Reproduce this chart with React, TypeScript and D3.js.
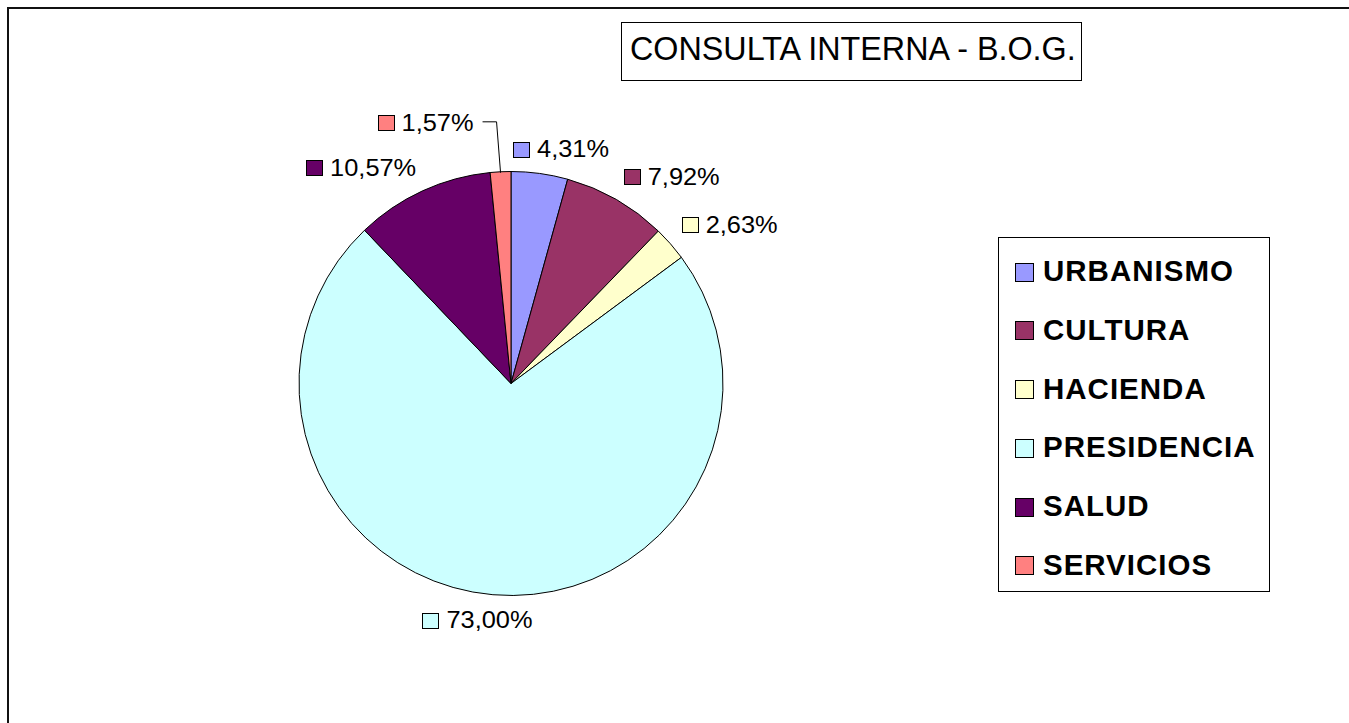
import React, { useEffect, useRef } from "react";
import * as d3 from "d3";

const categories = ["URBANISMO", "CULTURA", "HACIENDA", "PRESIDENCIA", "SALUD", "SERVICIOS"];
const values = [4.31, 7.92, 2.63, 73.0, 10.57, 1.57];
const colors = ["#9999FF", "#993366", "#FFFFCC", "#CCFFFF", "#660066", "#FF8080"];
const title = "CONSULTA INTERNA - B.O.G.";

const FONT = "'Liberation Sans', Arial, Helvetica, sans-serif";

export default function App() {
  const ref = useRef<SVGSVGElement | null>(null);

  useEffect(() => {
    const svg = d3.select(ref.current);
    svg.selectAll("*").remove();

    // outer frame
    svg.append("rect").attr("x", 8).attr("y", 8).attr("width", 1400).attr("height", 800)
      .attr("fill", "white").attr("stroke", "#111").attr("stroke-width", 2);

    // title
    svg.append("rect").attr("x", 621.5).attr("y", 22.5).attr("width", 460).attr("height", 58)
      .attr("fill", "white").attr("stroke", "#000").attr("stroke-width", 1);
    svg.append("text").attr("x", 630).attr("y", 60).attr("font-family", FONT)
      .attr("font-size", 32.3).attr("fill", "#000").text(title);

    const cx = 511, cy = 383.5, r = 212;
    const data = categories.map((c, i) => ({ c, v: values[i], col: colors[i] }));
    const pie = d3.pie<any>().value((d: any) => d.v).sort(null);
    const arcs = pie(data);
    const arc = d3.arc<any>().innerRadius(0).outerRadius(r);

    const g = svg.append("g").attr("transform", `translate(${cx},${cy})`);
    g.selectAll("path").data(arcs).enter().append("path")
      .attr("d", arc as any).attr("fill", (d: any) => d.data.col)
      .attr("stroke", "#000").attr("stroke-width", 1).attr("stroke-linejoin", "round");

    // labels
    const fmt = (v: number) => v.toFixed(2).replace(".", ",") + "%";
    const lg = svg.append("g");
    const D = 227, h = 20;
    arcs.forEach((a: any) => {
      const th = (a.startAngle + a.endAngle) / 2;
      const s = Math.sin(th), c = Math.cos(th);
      const t = lg.append("text").attr("font-family", FONT).attr("font-size", 25.4)
        .attr("fill", "#000").text(fmt(a.data.v));
      const tw = (t.node() as SVGTextElement).getComputedTextLength();
      const w = 16 + 8 + tw;
      let left: number, ycen: number;
      if (a.data.v >= 2) {
        const px = cx + D * s;
        const py = cy - D * c;
        const f = Math.max(0, Math.min(1, 0.5 - 1.5 * s));
        left = px - w * f;
        ycen = py - (h / 2) * Math.sign(c);
      } else {
        const arcX = cx + r * s;
        const arcY = cy - r * c;
        const right = arcX - 27;
        left = right - w;
        ycen = cy - (r + 50) * c;
        lg.append("polyline")
          .attr("points", `${right + 9},${ycen} ${arcX - 4},${ycen} ${arcX},${arcY + 1}`)
          .attr("fill", "none").attr("stroke", "#000").attr("stroke-width", 1);
      }
      lg.append("rect").attr("x", Math.round(left) + 0.5).attr("y", Math.round(ycen - 7) + 0.5)
        .attr("width", 16).attr("height", 15).attr("fill", a.data.col)
        .attr("stroke", "#000").attr("stroke-width", 1);
      t.attr("transform", `translate(${left + 24},${ycen + 8.7}) scale(1,0.96)`);
    });

    // legend
    svg.append("rect").attr("x", 998.5).attr("y", 237.5).attr("width", 271).attr("height", 354)
      .attr("fill", "white").attr("stroke", "#000").attr("stroke-width", 1);
    const leg = svg.append("g");
    categories.forEach((name, i) => {
      const yc = 271.7 + i * 58.7;
      leg.append("rect").attr("x", 1015.5).attr("y", Math.round(yc - 9) + 0.5)
        .attr("width", 18).attr("height", 18).attr("fill", colors[i])
        .attr("stroke", "#000").attr("stroke-width", 1);
      leg.append("text").attr("x", 1043).attr("y", yc + 9.5)
        .attr("font-family", FONT)
        .attr("font-size", 29.5).attr("font-weight", "bold").attr("letter-spacing", 1)
        .attr("fill", "#000").text(name);
    });
  }, []);

  return (
    <svg ref={ref} width={1349} height={723}
      style={{ position: "fixed", left: 0, top: 0, display: "block", background: "white" }} />
  );
}
